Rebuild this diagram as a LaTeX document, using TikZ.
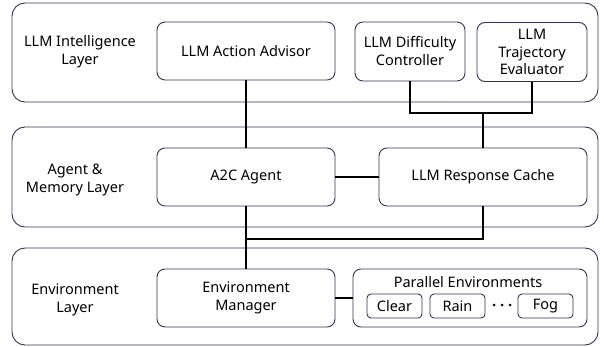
\documentclass[tikz,border=0pt]{standalone}
\usepackage{fontspec}
\setmainfont{Noto Sans}
\begin{document}
\begin{tikzpicture}[x=1pt,y=-1pt,
  layerbox/.style={draw=black!75!blue!60!gray, line width=0.9pt, rounded corners=13pt},
  compbox/.style={draw=black!75!blue!60!gray, line width=0.9pt, rounded corners=8pt, align=center, inner sep=0pt},
  envbox/.style={draw=black!75!blue!60!gray, line width=0.9pt, rounded corners=4pt, inner sep=0pt, minimum width=55pt, minimum height=24pt},
  lbl/.style={align=center, font=\fontsize{14.5}{18}\selectfont},
  conn/.style={draw=black, line width=1.8pt}]
\useasboundingbox (0,0) rectangle (604,347);
\fill[white] (0,0) rectangle (604,347);
% layers
\draw[layerbox] (12,3) rectangle (598,102);
\draw[layerbox] (12,127) rectangle (598,227);
\draw[layerbox] (12,248) rectangle (598,345);
\node[lbl] (l1) at (80,52) {LLM Intelligence\\Layer};
\node[lbl] (l2) at (75,180) {Agent \&\\Memory Layer};
\node[lbl] (l3) at (75,300) {Environment\\Layer};
% components
\node[compbox, lbl, minimum width=178pt, minimum height=58pt] (adv) at (246,51) {LLM Action Advisor};
\node[compbox, lbl, minimum width=110pt, minimum height=59pt] (diff) at (410,51.5) {LLM Difficulty\\Controller};
\node[compbox, lbl, minimum width=110pt, minimum height=59pt, font=\fontsize{14.5}{17.5}\selectfont] (traj) at (532,52) {LLM\\Trajectory\\Evaluator};
\node[compbox, lbl, minimum width=178pt, minimum height=58pt] (a2c) at (246,177) {A2C Agent};
\node[compbox, lbl, minimum width=208pt, minimum height=58pt] (cache) at (483,177) {LLM Response Cache};
\node[compbox, lbl, minimum width=178pt, minimum height=58pt] (envm) at (246,298) {Environment\\Manager};
\node[compbox, minimum width=234pt, minimum height=58pt] (par) at (470,298) {};
\node[lbl] (partitle) at (468,282) {Parallel Environments};
\node[envbox, lbl] (clear) at (394.5,306) {Clear};
\node[envbox, lbl] (rain) at (457.5,306) {Rain};
\node[envbox, lbl] (fog) at (545.5,306) {Fog};
\foreach \dx in {494,502,510} \fill (\dx,305) circle (1.5pt);
% connectors
\coordinate (jtop) at (483,113);
\coordinate (jbot) at (483,239);
\draw[conn] (adv.south) -- (a2c.north);
\draw[conn] (diff.south) |- (jtop) -| (traj.south);
\draw[conn] (jtop) -- (cache.north);
\draw[conn] (a2c.east) -- (cache.west);
\draw[conn] (a2c.south) -- (envm.north);
\draw[conn] (cache.south) |- (a2c.south |- jbot);
\draw[conn] (envm.east) -- (par.west);
\end{tikzpicture}
\end{document}
